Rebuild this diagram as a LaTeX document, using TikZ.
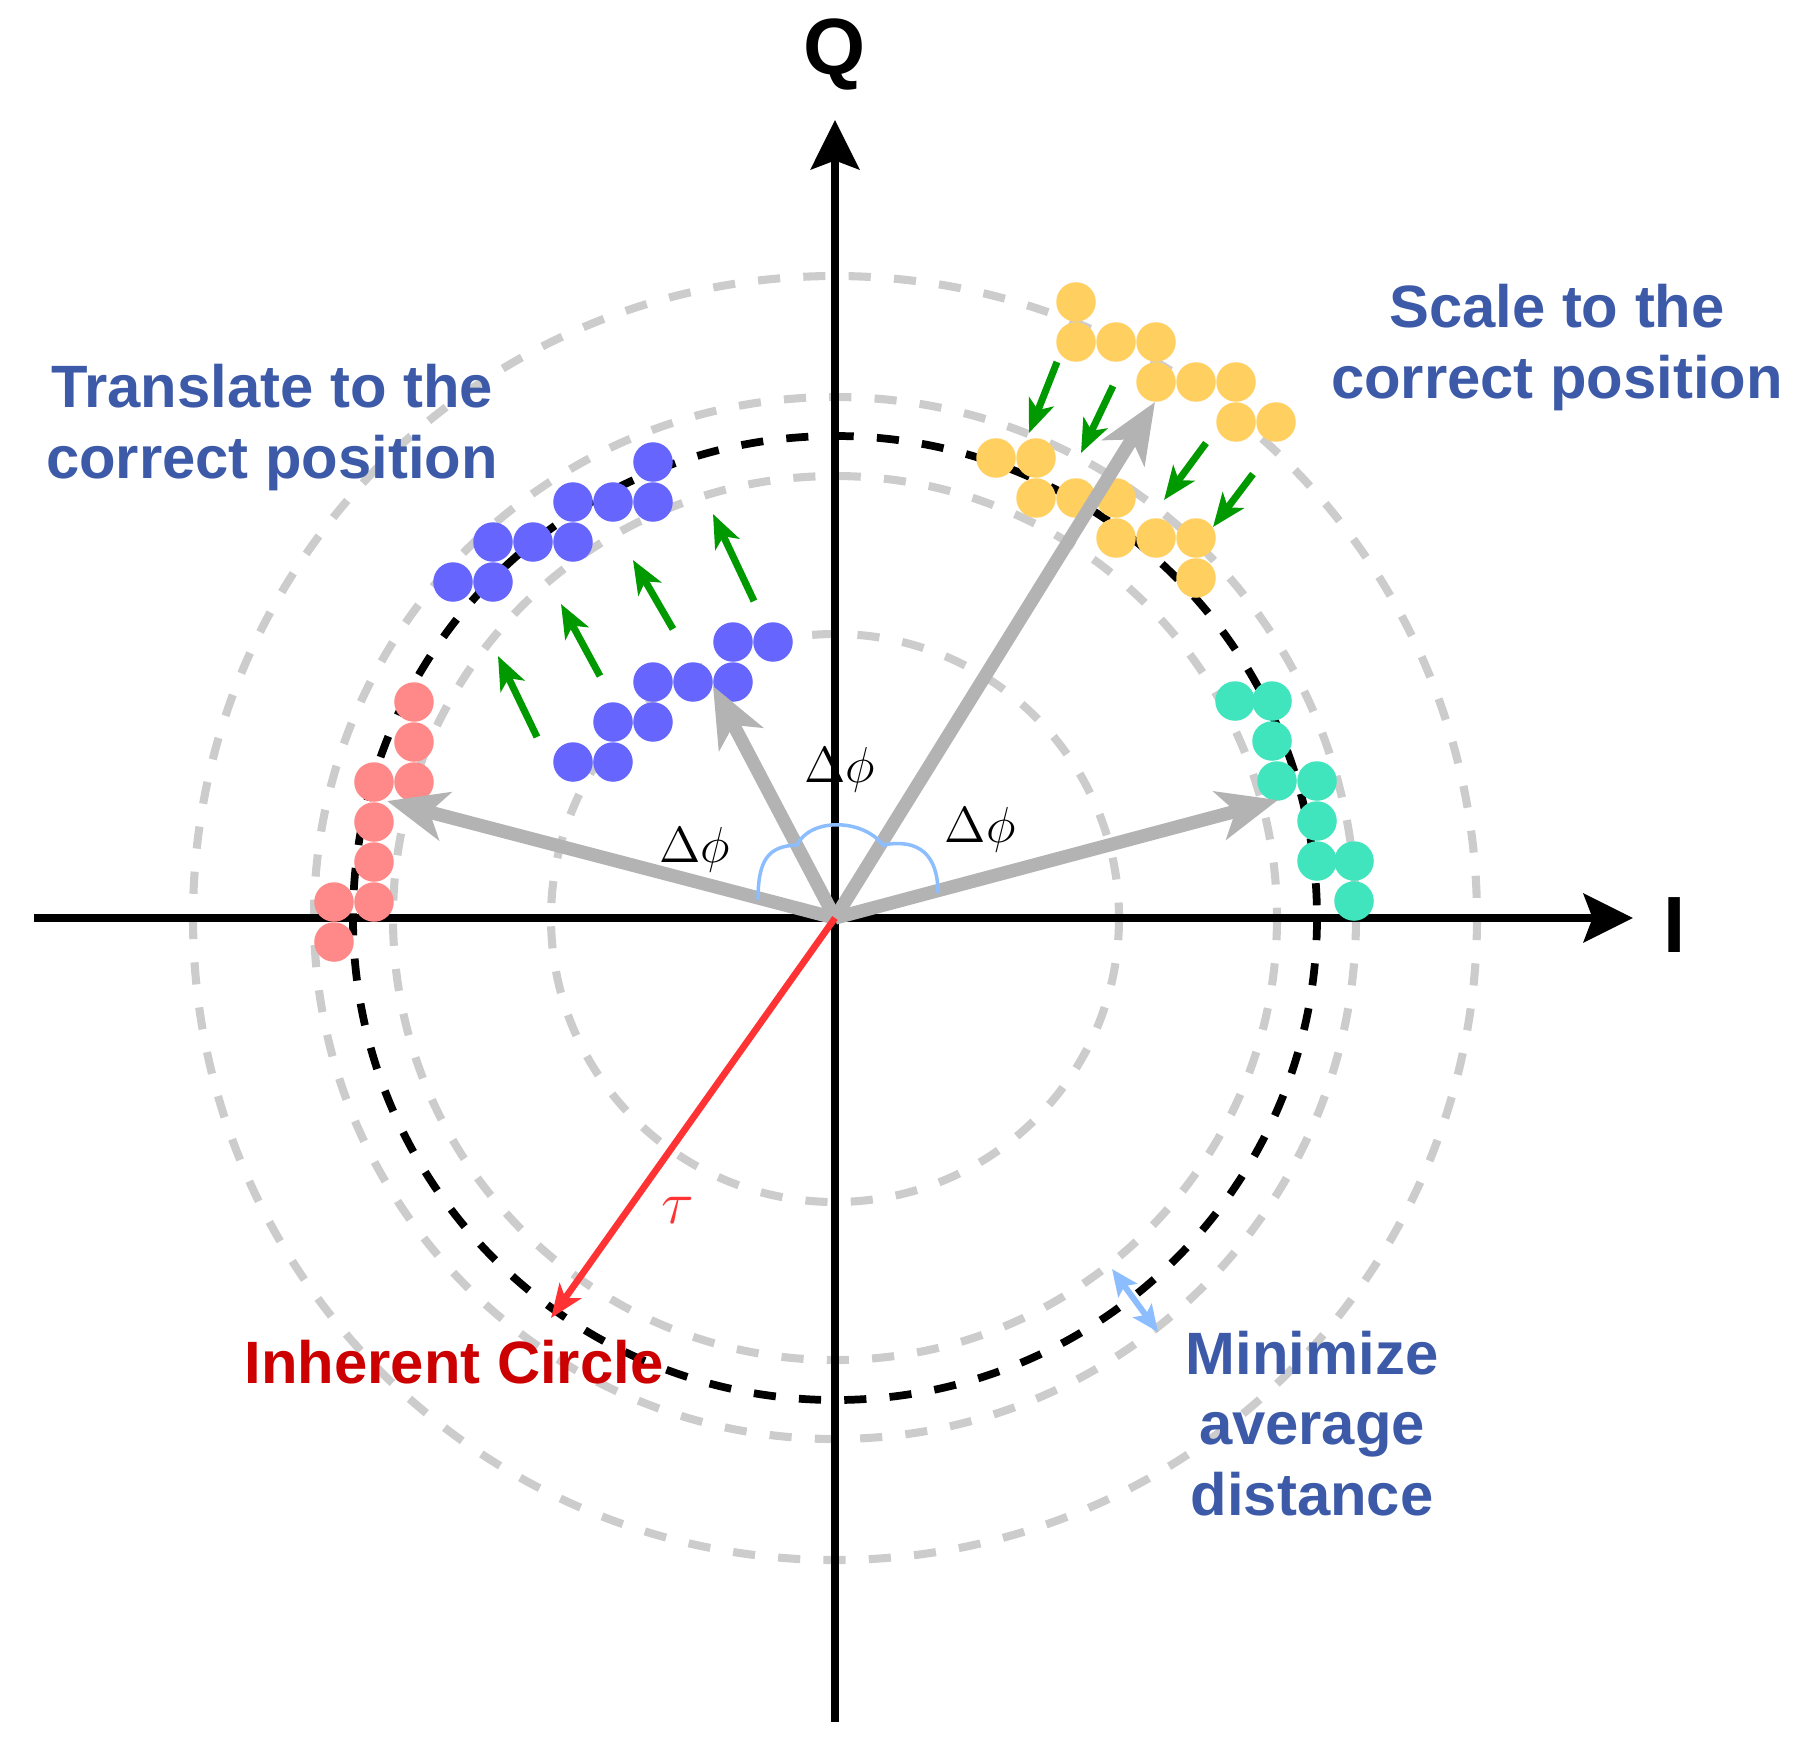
\documentclass[tikz,border=0pt]{standalone}
\usepackage{fontspec}
\setmainfont{Liberation Sans}
\usetikzlibrary{arrows.meta}

\definecolor{ptblue}{HTML}{6666FF}
\definecolor{ptpink}{HTML}{FF8888}
\definecolor{ptyellow}{HTML}{FFD05F}
\definecolor{ptteal}{HTML}{40E5BE}
\definecolor{ringgray}{HTML}{CCCCCC}
\definecolor{vecgray}{HTML}{B3B3B3}
\definecolor{movegreen}{HTML}{009900}
\definecolor{taured}{HTML}{FF3333}
\definecolor{noteblue}{HTML}{3C5AA8}
\definecolor{notered}{HTML}{CC0000}
\definecolor{arcblue}{HTML}{8CBEFF}

\begin{document}
\begin{tikzpicture}[x=0.01cm, y=-0.01cm,
  sample/.style={circle, inner sep=0pt, minimum size=0.395cm},
  bluept/.style={sample, fill=ptblue},
  pinkpt/.style={sample, fill=ptpink},
  yellowpt/.style={sample, fill=ptyellow},
  tealpt/.style={sample, fill=ptteal},
  ring/.style={ringgray, line width=2.3pt, dash pattern=on 6.3pt off 6.6pt},
  inherent/.style={black, line width=2.2pt, dash pattern=on 6.3pt off 6.6pt},
  axis/.style={line width=2.3pt, -{Stealth[length=14pt, width=13.7pt, inset=2.5pt]}},
  vec/.style={vecgray, line width=3.8pt, -{Stealth[length=17pt, width=14pt, inset=4.5pt]}},
  move/.style={movegreen, line width=2pt, -{Stealth[length=9.5pt, width=7.5pt, inset=2.5pt]}},
  axislabel/.style={anchor=base, font=\fontsize{22.7}{27}\selectfont\bfseries},
  note/.style={anchor=base, align=center, text=noteblue, font=\fontsize{17}{20}\selectfont\bfseries},
  dphi/.style={font=\fontsize{15}{18}\selectfont}]

  \useasboundingbox (0,0) rectangle (1800,1760);

  % Origin and ends
  \coordinate (o) at (835,918);
  \coordinate (iend) at (1633,918);
  \coordinate (istart) at (34,918);
  \coordinate (qend) at (835,120);
  \coordinate (qstart) at (835,1722);

  % Circles
  \draw[ring] (o) circle [radius=284];
  \draw[ring] (o) circle [radius=442];
  \draw[ring] (o) circle [radius=521];
  \draw[ring] (o) circle [radius=642];
  \draw[inherent] (o) circle [radius=482];

  % Axes
  \draw[axis] (istart) -- (iend);
  \draw[axis] (qstart) -- (qend);
  \node[axislabel] (qlab) at (835,74) {Q};
  \node[axislabel] (ilab) at (1675,952) {I};

  % Blue samples, on the circle
  \node[bluept] (b1) at (653,462) {};
  \node[bluept] (b2) at (573,502) {};
  \node[bluept] (b3) at (613,502) {};
  \node[bluept] (b4) at (653,502) {};
  \node[bluept] (b5) at (493,542) {};
  \node[bluept] (b6) at (533,542) {};
  \node[bluept] (b7) at (573,542) {};
  \node[bluept] (b8) at (453,582) {};
  \node[bluept] (b9) at (493,582) {};

  % Blue samples, shifted
  \node[bluept] (c1) at (733,642) {};
  \node[bluept] (c2) at (773,642) {};
  \node[bluept] (c3) at (653,682) {};
  \node[bluept] (c4) at (693,682) {};
  \node[bluept] (c5) at (733,682) {};
  \node[bluept] (c6) at (613,722) {};
  \node[bluept] (c7) at (653,722) {};
  \node[bluept] (c8) at (573,762) {};
  \node[bluept] (c9) at (613,762) {};

  % Pink samples
  \node[pinkpt] (p1) at (414,702) {};
  \node[pinkpt] (p2) at (414,742) {};
  \node[pinkpt] (p3) at (414,782) {};
  \node[pinkpt] (p4) at (374,782) {};
  \node[pinkpt] (p5) at (374,822) {};
  \node[pinkpt] (p6) at (374,862) {};
  \node[pinkpt] (p7) at (374,902) {};
  \node[pinkpt] (p8) at (334,902) {};
  \node[pinkpt] (p9) at (334,942) {};

  % Yellow samples, scaled out
  \node[yellowpt] (y1) at (1076,302) {};
  \node[yellowpt] (y2) at (1076,342) {};
  \node[yellowpt] (y3) at (1116,342) {};
  \node[yellowpt] (y4) at (1156,342) {};
  \node[yellowpt] (y5) at (1156,382) {};
  \node[yellowpt] (y6) at (1196,382) {};
  \node[yellowpt] (y7) at (1236,382) {};
  \node[yellowpt] (y8) at (1236,422) {};
  \node[yellowpt] (y9) at (1276,422) {};

  % Yellow samples, on the circle
  \node[yellowpt] (z1) at (996,458) {};
  \node[yellowpt] (z2) at (1036,458) {};
  \node[yellowpt] (z3) at (1036,498) {};
  \node[yellowpt] (z4) at (1076,498) {};
  \node[yellowpt] (z5) at (1116,498) {};
  \node[yellowpt] (z6) at (1116,538) {};
  \node[yellowpt] (z7) at (1156,538) {};
  \node[yellowpt] (z8) at (1196,538) {};
  \node[yellowpt] (z9) at (1196,578) {};

  % Teal samples
  \node[tealpt] (t1) at (1235,701) {};
  \node[tealpt] (t2) at (1272,701) {};
  \node[tealpt] (t3) at (1272,741) {};
  \node[tealpt] (t4) at (1277,781) {};
  \node[tealpt] (t5) at (1317,781) {};
  \node[tealpt] (t6) at (1317,821) {};
  \node[tealpt] (t7) at (1317,861) {};
  \node[tealpt] (t8) at (1354,861) {};
  \node[tealpt] (t9) at (1354,901) {};

  % Phase vectors
  \coordinate (vleft) at (387,801);
  \coordinate (vupleft) at (713,686);
  \coordinate (vupright) at (1155,402);
  \coordinate (vright) at (1278,800);
  \draw[vec] (o) -- (vleft);
  \draw[vec] (o) -- (vupleft);
  \draw[vec] (o) -- (vupright);
  \draw[vec] (o) -- (vright);

  % Angle marks
  \coordinate (aleft) at (758,900);
  \coordinate (ajoinl) at (797,845);
  \coordinate (ajoinr) at (883,845);
  \coordinate (aright) at (938,893);
  \draw[arcblue, line width=1pt] (aleft) .. controls (758,860) and (768,846) .. (ajoinl)
    .. controls (810,818) and (862,818) .. (ajoinr)
    .. controls (920,838) and (938,856) .. (aright);
  \node[dphi] (dphitop) at (840,770) {$\Delta\phi$};
  \node[dphi] (dphileft) at (695,850) {$\Delta\phi$};
  \node[dphi] (dphiright) at (980,830) {$\Delta\phi$};

  % Moves, translate
  \coordinate (ma1) at (537,737); \coordinate (mb1) at (498,656);
  \coordinate (ma2) at (600,676); \coordinate (mb2) at (561,604);
  \coordinate (ma3) at (673,629); \coordinate (mb3) at (633,560);
  \coordinate (ma4) at (754,601); \coordinate (mb4) at (713,514);
  \draw[move] (ma1) -- (mb1);
  \draw[move] (ma2) -- (mb2);
  \draw[move] (ma3) -- (mb3);
  \draw[move] (ma4) -- (mb4);

  % Moves, scale
  \coordinate (sa1) at (1057,362); \coordinate (sb1) at (1029,433);
  \coordinate (sa2) at (1113,386); \coordinate (sb2) at (1081,453);
  \coordinate (sa3) at (1206,443); \coordinate (sb3) at (1164,500);
  \coordinate (sa4) at (1253,474); \coordinate (sb4) at (1213,527);
  \draw[move] (sa1) -- (sb1);
  \draw[move] (sa2) -- (sb2);
  \draw[move] (sa3) -- (sb3);
  \draw[move] (sa4) -- (sb4);

  % Radius
  \coordinate (tauend) at (551,1318);
  \draw[taured, line width=1.9pt, -{Stealth[length=9.5pt, width=7.5pt, inset=2.5pt]}] (o) -- (tauend);
  \node[dphi, text=taured, font=\fontsize{17}{20}\selectfont] (taulab) at (678,1210) {$\tau$};

  % Distance
  \coordinate (dina) at (1112,1269);
  \coordinate (dinb) at (1158,1332);
  \draw[arcblue, line width=1.7pt, {Stealth[length=7.5pt, width=6.5pt, inset=1.5pt]}-{Stealth[length=7.5pt, width=6.5pt, inset=1.5pt]}] (dina) -- (dinb);

  % Notes
  \node[note] (translate) at (272,478) {Translate to the\\correct position};
  \node[note] (scale) at (1557,398) {Scale to the\\correct position};
  \node[note] (minimize) at (1312,1515) {Minimize\\average\\distance};
  \node[note, text=notered] (circlelab) at (454,1383) {Inherent Circle};

\end{tikzpicture}
\end{document}
